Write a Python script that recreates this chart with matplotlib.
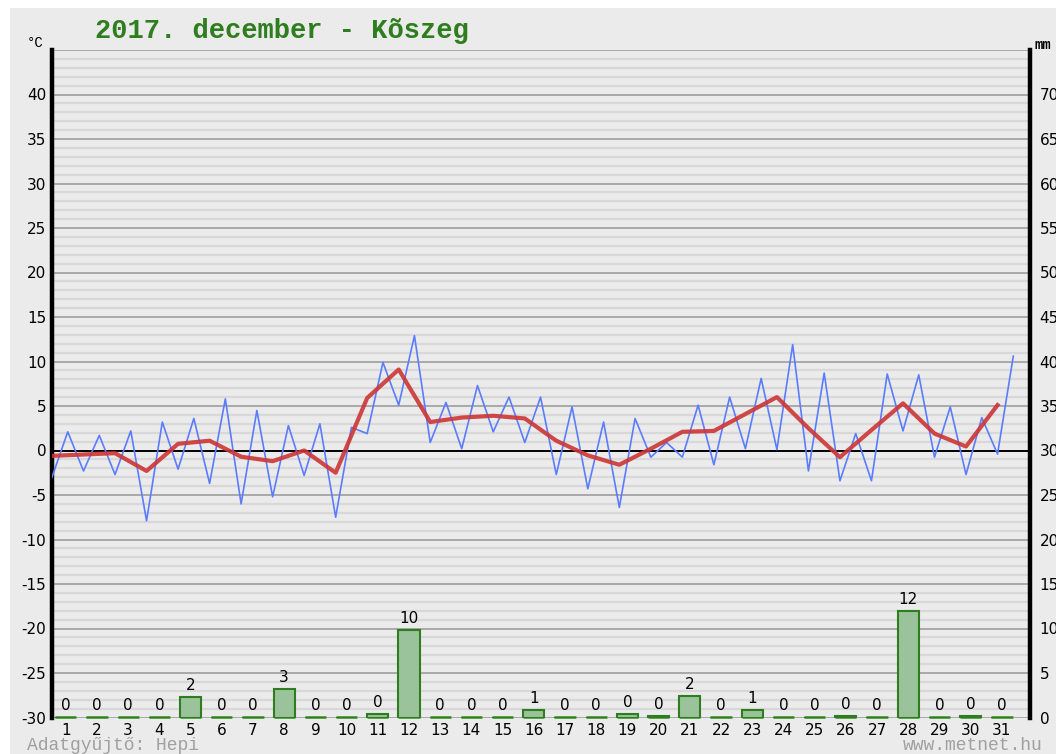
import matplotlib
matplotlib.use("Agg")
import matplotlib.pyplot as plt
import numpy as np

# daily data, 2017 december, Koszeg
days = list(range(1, 32))
t_min = [-3.0, -2.3, -2.7, -7.9, -2.1, -3.7, -6.0, -5.2, -2.8, -7.5,
         1.9, 5.1, 0.9, 0.2, 2.1, 0.9, -2.7, -4.3, -6.4, -0.75,
         -0.75, -1.6, 0.2, 0.1, -2.3, -3.4, -3.4, 2.2, -0.75, -2.7, -0.4]
t_max = [2.1, 1.7, 2.2, 3.2, 3.6, 5.8, 4.5, 2.8, 3.0, 2.6,
         9.9, 12.9, 5.4, 7.3, 6.0, 6.0, 4.9, 3.2, 3.6, 0.9,
         5.1, 6.0, 8.1, 11.9, 8.7, 1.9, 8.6, 8.5, 4.9, 3.7, 10.6]
t_mean = [-0.6, -0.45, -0.3, -2.3, 0.75, 1.1, -0.7, -1.2, 0.0, -2.5,
          5.9, 9.1, 3.2, 3.7, 3.9, 3.6, 1.1, -0.55, -1.6, 0.2,
          2.1, 2.2, 4.1, 6.0, 2.5, -0.75, 2.3, 5.3, 1.9, 0.45, 5.1]
rain = [0, 0, 0, 0, 2.3, 0, 0, 3.2, 0, 0,
        0.4, 9.8, 0, 0, 0, 0.8, 0, 0, 0.4, 0.2,
        2.4, 0, 0.8, 0, 0, 0.2, 0, 12.0, 0, 0.2, 0]

temp_ticks = list(range(-30, 45, 5))
mm_ticks = list(range(0, 75, 5))

BG = "#ebebeb"
W, H = 1056, 754
fig = plt.figure(figsize=(W / 100, H / 100), dpi=100, facecolor="white")
fig.patches.append(plt.Rectangle((10 / W, 0), 1, 1 - 8 / H, transform=fig.transFigure,
                                 facecolor=BG, edgecolor="none", zorder=-10))

pos = [52 / W, 1 - 717.5 / H, (1030 - 52) / W, (717.5 - 50) / H]
ax = fig.add_axes(pos, facecolor=BG)
axb = fig.add_axes(pos, facecolor="none")

# temperature axis
ax.set_xlim(1, 32.03)
ax.set_ylim(-30, 45)
for v in range(-30, 46):
    if v % 5 == 0:
        ax.axhline(v, color="#a3a3a3", lw=1.3, zorder=1)
    else:
        ax.axhline(v, color="#d8d8d8", lw=1.6, zorder=0.5)
ax.axhline(0, color="black", lw=1.4, zorder=2)

xs = []
ys = []
for d, lo, hi in zip(days, t_min, t_max):
    xs += [d, d + 0.5]
    ys += [lo, hi]
ax.plot(xs, ys, color="#5a7dff", lw=1.2, zorder=3)
ax.plot(days, t_mean, color="#cc3535", lw=3.0, alpha=0.9, zorder=4,
        solid_joinstyle="round")

ax.set_xticks([])
ax.set_yticks(temp_ticks)
ax.set_yticklabels([str(t) for t in temp_ticks], fontsize=11, family="DejaVu Sans")
ax.tick_params(axis="y", length=0, pad=4)
for s in ["top", "bottom", "right"]:
    ax.spines[s].set_visible(False)
ax.spines["left"].set_linewidth(3.2)
ax.spines["left"].set_color("black")

# precipitation axis
axb.set_xlim(0.56, 31.9)
axb.set_ylim(0, 75)
bw = 0.68
axb.hlines([0.1] * len(days), [d - bw / 2 for d in days], [d + bw / 2 for d in days],
           color="#4f9a3f", lw=2.0, zorder=2.5, clip_on=False)
axb.bar(days, rain, width=bw, color="#9bc39b", edgecolor="#2e7d1e", linewidth=1.5, zorder=3)
for d, r in zip(days, rain):
    axb.annotate(str(int(round(r))), (d, r), xytext=(0, 3), textcoords="offset points",
                 ha="center", va="bottom", fontsize=11, family="DejaVu Sans")
axb.yaxis.tick_right()
axb.set_yticks(mm_ticks)
axb.set_yticklabels([str(m) for m in mm_ticks], fontsize=11, family="DejaVu Sans")
axb.set_xticks(days)
axb.set_xticklabels([str(d) for d in days], fontsize=11, family="DejaVu Sans")
axb.tick_params(axis="both", length=0)
axb.tick_params(axis="y", pad=7)
axb.tick_params(axis="x", pad=4)
for s in ["top", "bottom", "left"]:
    axb.spines[s].set_visible(False)
axb.spines["right"].set_linewidth(3.2)
axb.spines["right"].set_color("black")

# texts
fig.text(95 / W, 1 - 31 / H, "2017. december - Kõszeg", fontsize=19.5, family="Liberation Mono",
         weight="bold", color="#2e7d1e", va="center", ha="left")
fig.text(27 / W, 1 - 43 / H, "°C", fontsize=10, family="Liberation Mono", va="center", ha="left")
fig.text(1035 / W, 1 - 45 / H, "mm", fontsize=10, family="Liberation Mono", weight="bold",
         va="center", ha="left")
fig.text(27 / W, 1 - 745 / H, "Adatgyűjtő: Hepi", fontsize=13, family="Liberation Mono",
         color="#a0a0a0", va="center", ha="left")
fig.text(903 / W, 1 - 745 / H, "www.metnet.hu", fontsize=13, family="Liberation Mono",
         color="#a0a0a0", va="center", ha="left")

fig.savefig("out.png", dpi=100, facecolor=fig.get_facecolor())
